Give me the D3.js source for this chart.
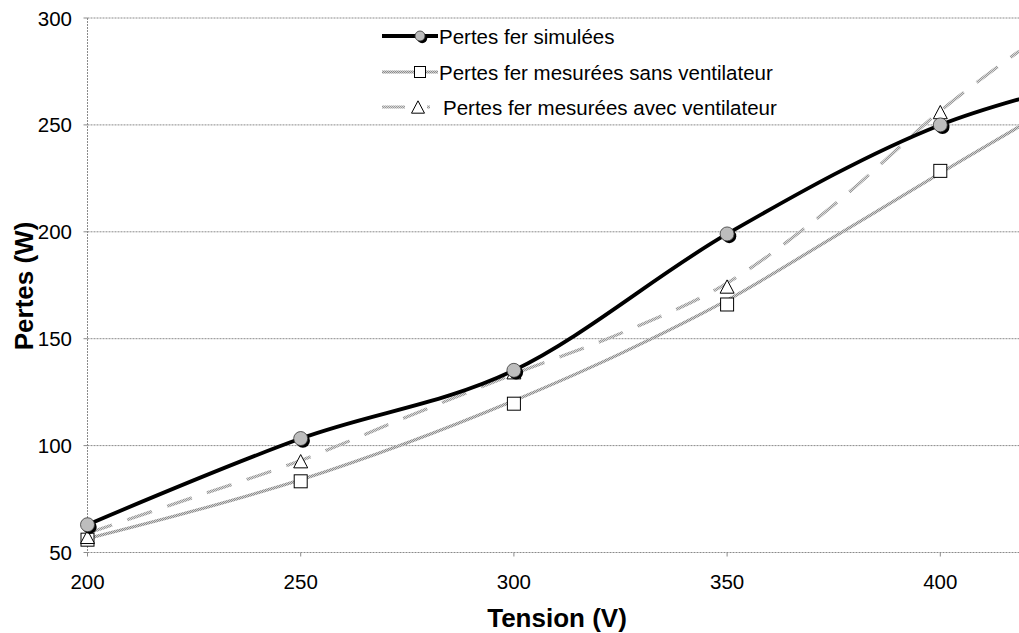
<!DOCTYPE html>
<html><head><meta charset="utf-8">
<script src="https://cdn.jsdelivr.net/npm/d3@7/dist/d3.min.js"></script>
<style>
html,body{margin:0;padding:0;background:#fff;}
svg{display:block;font-family:"Liberation Sans",Arial,sans-serif;}
</style></head>
<body><svg id="c" width="1019" height="633"></svg>
<script>
// Marker data
const tensions = [200, 250, 300, 350, 400];
const pertesSimulees = [63, 103.3, 135.2, 199, 250];
const pertesSansVent = [56, 83.3, 119.6, 166, 228.5];
const pertesAvecVent = [57.3, 92.7, 134.3, 174.4, 256];
// Curves as drawn in the picture (the simulated curve continues past the right edge)
const courbeTensions = [200, 250, 300, 350, 400, 450];
const courbeSimulees = [63, 103.3, 135.2, 199, 250, 278];
const trendTensions = [200, 225, 250, 275, 300, 325, 350, 375, 400, 418.5];
const trendSansVent = [56.5, 69.5, 84, 101.3, 121, 143, 168, 197.5, 227.5, 249.2];
const trendAvecVent = [59, 75.9, 93, 113.5, 133.5, 152.5, 176, 212.5, 256.5, 284.5];
const xTicks = [200, 250, 300, 350, 400];
const yTicks = [50, 100, 150, 200, 250, 300];
const legendLabels = ["Pertes fer simulées", "Pertes fer mesurées sans ventilateur", "Pertes fer mesurées avec ventilateur"];
const xTitle = "Tension (V)", yTitle = "Pertes (W)";

const svg = d3.select("#c");
const x0 = 87.5, pxPer50 = 213.2;
const x = d3.scaleLinear().domain([200, 250]).range([x0, x0 + pxPer50]);
const y = d3.scaleLinear().domain([50, 300]).range([552.5, 18]);
const xRight = 1019;
const fs = 20.5;

const defs = svg.append("defs");
defs.append("clipPath").attr("id", "clip")
  .append("rect").attr("x", 0).attr("y", 0).attr("width", xRight).attr("height", 633);
const pat = defs.append("pattern").attr("id", "tex").attr("patternUnits", "userSpaceOnUse")
  .attr("width", 2).attr("height", 2);
pat.append("rect").attr("width", 2).attr("height", 2).attr("fill", "#d2d2d2");
pat.append("rect").attr("width", 1).attr("height", 1).attr("fill", "#8c8c8c");
pat.append("rect").attr("x", 1).attr("y", 1).attr("width", 1).attr("height", 1).attr("fill", "#8c8c8c");
const pat2 = defs.append("pattern").attr("id", "texc").attr("patternUnits", "userSpaceOnUse")
  .attr("width", 2).attr("height", 2);
pat2.append("rect").attr("width", 2).attr("height", 2).attr("fill", "#d8d8d8");
pat2.append("rect").attr("width", 1).attr("height", 1).attr("fill", "#999");
pat2.append("rect").attr("x", 1).attr("y", 1).attr("width", 1).attr("height", 1).attr("fill", "#999");

// gridlines
const grid = svg.append("g");
grid.selectAll("line.h").data(yTicks).join("line")
  .attr("x1", x0).attr("x2", xRight)
  .attr("y1", d => y(d)).attr("y2", d => y(d))
  .attr("stroke", "#8a8a8a").attr("stroke-width", 1).attr("stroke-dasharray", "2,1");
grid.append("line").attr("x1", x0).attr("x2", x0).attr("y1", y(300)).attr("y2", y(50))
  .attr("stroke", "#8a8a8a").attr("stroke-width", 1).attr("stroke-dasharray", "2,1");
grid.selectAll("line.xt").data(xTicks).join("line")
  .attr("x1", d => x(d)).attr("x2", d => x(d)).attr("y1", y(50)).attr("y2", y(50) + 4)
  .attr("stroke", "#8a8a8a");
grid.selectAll("line.yt").data(yTicks).join("line")
  .attr("x1", x0 - 4).attr("x2", x0).attr("y1", d => y(d)).attr("y2", d => y(d))
  .attr("stroke", "#8a8a8a");

// tick labels
svg.append("g").selectAll("text").data(yTicks).join("text")
  .attr("x", 72).attr("y", d => y(d) + 7.5).attr("text-anchor", "end")
  .attr("font-size", fs).attr("fill", "#000").text(d => d);
svg.append("g").selectAll("text").data(xTicks).join("text")
  .attr("x", d => x(d)).attr("y", 589).attr("text-anchor", "middle")
  .attr("font-size", fs).attr("fill", "#000").text(d => d);

// titles
svg.append("text").attr("x", 557).attr("y", 627).attr("text-anchor", "middle")
  .attr("font-size", 26).attr("font-weight", "bold").text(xTitle);
svg.append("text").attr("transform", "translate(33,286) rotate(-90)").attr("text-anchor", "middle")
  .attr("font-size", 26).attr("font-weight", "bold").text(yTitle);

const line = d3.line().x(d => x(d[0])).y(d => y(d[1])).curve(d3.curveCardinal.tension(0));
const plot = svg.append("g").attr("clip-path", "url(#clip)");

plot.append("path").datum(d3.zip(trendTensions, trendSansVent)).attr("d", line)
  .attr("fill", "none").attr("stroke", "url(#tex)").attr("stroke-width", 3.2);
plot.append("path").datum(d3.zip(trendTensions, trendAvecVent)).attr("d", line)
  .attr("fill", "none").attr("stroke", "url(#texc)").attr("stroke-width", 3.2).attr("stroke-dasharray", "26,16");
plot.append("path").datum(d3.zip(courbeTensions, courbeSimulees)).attr("d", line)
  .attr("fill", "none").attr("stroke", "#000").attr("stroke-width", 3.8);

function drawSquare(g, cx, cy, s) {
  g.append("rect").attr("x", cx - s / 2).attr("y", cy - s / 2).attr("width", s).attr("height", s)
    .attr("fill", "#fff").attr("stroke", "#000").attr("stroke-width", 1);
}
function drawTri(g, cx, cy, s) {
  const h = s * 0.95;
  g.append("path").attr("d", `M${cx},${cy - h / 2}L${cx + s / 2},${cy + h / 2}L${cx - s / 2},${cy + h / 2}Z`)
    .attr("fill", "#fff").attr("stroke", "#000").attr("stroke-width", 1);
}
function drawCircle(g, cx, cy, r) {
  g.append("circle").attr("cx", cx + 2.2).attr("cy", cy + 2.2).attr("r", r).attr("fill", "#000");
  g.append("circle").attr("cx", cx).attr("cy", cy).attr("r", r)
    .attr("fill", "#bdbdbd").attr("stroke", "#333").attr("stroke-width", 0.8);
}

const mk = plot.append("g");
tensions.forEach((t, i) => {
  drawSquare(mk, x(t), y(pertesSansVent[i]), 13);
  drawTri(mk, x(t), y(pertesAvecVent[i]), 14);
  drawCircle(mk, x(t), y(pertesSimulees[i]), 7);
});

// legend
const lg = svg.append("g");
const rows = [36, 72, 107];
lg.append("line").attr("x1", 382).attr("x2", 438).attr("y1", rows[0]).attr("y2", rows[0])
  .attr("stroke", "#000").attr("stroke-width", 3.8);
drawCircle(lg, 420, rows[0], 5);
lg.append("line").attr("x1", 382).attr("x2", 438).attr("y1", rows[1]).attr("y2", rows[1])
  .attr("stroke", "url(#tex)").attr("stroke-width", 3.2);
drawSquare(lg, 420, rows[1], 11);
lg.append("line").attr("x1", 382).attr("x2", 440).attr("y1", rows[2]).attr("y2", rows[2])
  .attr("stroke", "url(#texc)").attr("stroke-width", 3.2).attr("stroke-dasharray", "23,22,3,20");
drawTri(lg, 418, rows[2], 13);
lg.selectAll("text").data(legendLabels).join("text")
  .attr("x", (d, i) => i === 2 ? 443 : 439).attr("y", (d, i) => rows[i] + 8)
  .attr("font-size", fs).attr("fill", "#000").text(d => d);
</script></body></html>
